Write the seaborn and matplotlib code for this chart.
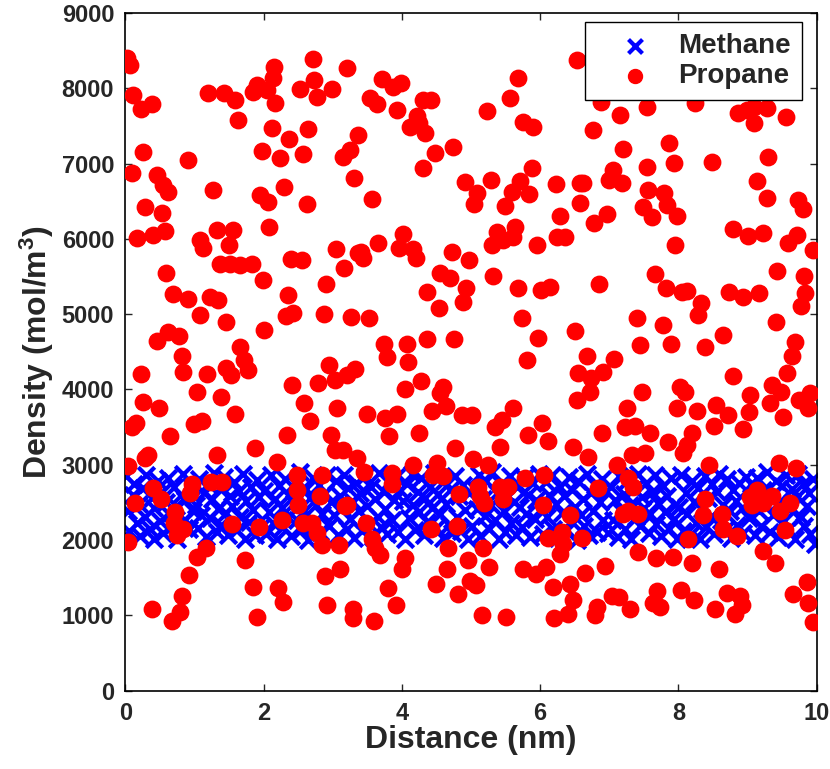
import numpy as np
import pandas as pd
import seaborn as sns
import matplotlib.pyplot as plt

sns.set_style("white")
plt.rcParams['font.family'] = ['Liberation Sans', 'DejaVu Sans']
plt.rcParams['font.weight'] = 'bold'
plt.rcParams['mathtext.fontset'] = 'custom'
plt.rcParams['mathtext.rm'] = 'Liberation Sans:bold'
plt.rcParams['mathtext.bf'] = 'Liberation Sans:bold'
plt.rcParams['mathtext.default'] = 'bf'

# Methane points (dense band ~2000-2900 mol/m^3)
methane_x = [
    0.01, 0.04, 0.06, 0.11, 0.12, 0.17, 0.20, 0.21, 0.26, 0.29, 0.30, 0.35, 0.38, 0.41, 0.42, 0.47, 0.50,
    0.53, 0.54, 0.59, 0.62, 0.63, 0.68, 0.71, 0.74, 0.75, 0.80, 0.83, 0.86, 0.87, 0.92, 0.95, 0.98,
    1.02, 1.05, 1.07, 1.10, 1.14, 1.16, 1.19, 1.23, 1.25, 1.28, 1.32, 1.34, 1.37, 1.39, 1.43, 1.46, 1.48,
    1.52, 1.55, 1.57, 1.61, 1.64, 1.66, 1.70, 1.73, 1.75, 1.79, 1.82, 1.84, 1.88, 1.91, 1.93, 1.97,
    2.01, 2.04, 2.08, 2.10, 2.13, 2.17, 2.19, 2.22, 2.26, 2.28, 2.31, 2.35, 2.37, 2.40, 2.44, 2.46, 2.49,
    2.53, 2.55, 2.58, 2.62, 2.64, 2.67, 2.71, 2.73, 2.76, 2.80, 2.82, 2.85, 2.89, 2.91, 2.94, 2.98,
    3.02, 3.05, 3.07, 3.11, 3.13, 3.16, 3.20, 3.22, 3.25, 3.29, 3.31, 3.34, 3.38, 3.40, 3.43, 3.47, 3.49,
    3.52, 3.56, 3.58, 3.61, 3.65, 3.67, 3.70, 3.74, 3.76, 3.79, 3.83, 3.85, 3.88, 3.92, 3.94, 3.97,
    4.01, 4.04, 4.07, 4.10, 4.14, 4.16, 4.19, 4.23, 4.25, 4.28, 4.32, 4.34, 4.37, 4.41, 4.43, 4.46, 4.50,
    4.52, 4.55, 4.59, 4.61, 4.64, 4.68, 4.70, 4.73, 4.77, 4.79, 4.82, 4.86, 4.88, 4.91, 4.95, 4.97,
    5.02, 5.05, 5.08, 5.11, 5.13, 5.17, 5.20, 5.22, 5.26, 5.29, 5.31, 5.35, 5.38, 5.40, 5.44, 5.47, 5.49,
    5.53, 5.56, 5.58, 5.62, 5.65, 5.67, 5.71, 5.74, 5.76, 5.80, 5.83, 5.85, 5.89, 5.92, 5.94, 5.98,
    6.01, 6.04, 6.08, 6.10, 6.13, 6.17, 6.19, 6.23, 6.26, 6.28, 6.32, 6.35, 6.37, 6.41, 6.44, 6.46, 6.50,
    6.53, 6.55, 6.59, 6.62, 6.64, 6.68, 6.71, 6.73, 6.77, 6.80, 6.82, 6.86, 6.89, 6.91, 6.95, 6.98,
    7.02, 7.05, 7.08, 7.12, 7.14, 7.17, 7.21, 7.23, 7.26, 7.30, 7.32, 7.35, 7.39, 7.41, 7.44, 7.48, 7.50,
    7.53, 7.57, 7.59, 7.62, 7.66, 7.68, 7.71, 7.75, 7.77, 7.80, 7.84, 7.86, 7.89, 7.93, 7.95, 7.98,
    8.01, 8.04, 8.07, 8.11, 8.13, 8.16, 8.20, 8.22, 8.25, 8.29, 8.31, 8.34, 8.38, 8.40, 8.43, 8.47, 8.49,
    8.52, 8.56, 8.58, 8.61, 8.65, 8.67, 8.70, 8.74, 8.76, 8.79, 8.83, 8.85, 8.88, 8.92, 8.94, 8.97,
    9.02, 9.05, 9.08, 9.11, 9.14, 9.17, 9.19, 9.23, 9.26, 9.28, 9.32, 9.35, 9.37, 9.41, 9.44, 9.46, 9.50,
    9.53, 9.55, 9.59, 9.62, 9.64, 9.68, 9.71, 9.73, 9.77, 9.80, 9.82, 9.86, 9.89, 9.91, 9.95, 9.98,
]
methane_y = [
    2850, 2380, 2120, 2600, 2750, 2230, 2480, 2050, 2690, 2310, 2870, 2150, 2560, 2420, 2010, 2780, 2250,
    2640, 2090, 2500, 2830, 2340, 2180, 2710, 2450, 2020, 2600, 2880, 2270, 2530, 2140, 2720, 2390,
    2470, 2160, 2810, 2330, 2620, 2040, 2740, 2290, 2550, 2890, 2110, 2410, 2680, 2200, 2840, 2360, 2070,
    2590, 2450, 2770, 2130, 2650, 2300, 2880, 2020, 2520, 2240, 2700, 2400, 2060, 2800, 2570, 2190,
    2650, 2080, 2370, 2860, 2230, 2540, 2010, 2720, 2430, 2170, 2810, 2310, 2600, 2050, 2490, 2760, 2260,
    2900, 2140, 2380, 2680, 2000, 2560, 2820, 2210, 2460, 2730, 2100, 2350, 2620, 2870, 2190, 2500,
    2330, 2790, 2060, 2580, 2420, 2870, 2150, 2690, 2280, 2510, 2030, 2760, 2390, 2620, 2120, 2850, 2450,
    2210, 2700, 2040, 2550, 2310, 2890, 2170, 2640, 2410, 2080, 2780, 2260, 2530, 2840, 2110, 2670,
    2520, 2010, 2740, 2290, 2880, 2460, 2130, 2640, 2370, 2820, 2070, 2560, 2240, 2710, 2430, 2890, 2160,
    2610, 2340, 2030, 2790, 2480, 2200, 2660, 2090, 2850, 2310, 2580, 2120, 2730, 2400, 2020, 2620,
    2180, 2690, 2410, 2860, 2050, 2550, 2320, 2780, 2140, 2470, 2900, 2260, 2630, 2010, 2740, 2380, 2100,
    2590, 2850, 2230, 2500, 2070, 2710, 2440, 2170, 2820, 2350, 2600, 2040, 2760, 2280, 2530, 2880,
    2410, 2080, 2770, 2300, 2600, 2860, 2150, 2480, 2030, 2700, 2360, 2590, 2120, 2840, 2250, 2660, 2440,
    2000, 2790, 2330, 2540, 2190, 2880, 2060, 2620, 2390, 2730, 2110, 2510, 2810, 2270, 2650, 2090,
    2700, 2260, 2530, 2040, 2850, 2390, 2610, 2140, 2790, 2470, 2020, 2680, 2300, 2880, 2180, 2570, 2420,
    2760, 2090, 2340, 2640, 2860, 2210, 2490, 2050, 2720, 2370, 2590, 2150, 2830, 2280, 2460, 2010,
    2440, 2870, 2120, 2620, 2350, 2060, 2780, 2510, 2230, 2690, 2020, 2410, 2850, 2170, 2560, 2300, 2740,
    2080, 2640, 2880, 2260, 2470, 2130, 2810, 2380, 2030, 2670, 2520, 2200, 2760, 2430, 2090, 2840,
    2290, 2750, 2540, 2070, 2830, 2380, 2180, 2660, 2470, 2900, 2110, 2600, 2330, 2790, 2040, 2500, 2720,
    2250, 2860, 2150, 2410, 2680, 2020, 2570, 2880, 2310, 2740, 2190, 2450, 2630, 2080, 2810, 1950,
]

# Propane points (scattered 900-8400 mol/m^3)
propane_x = [
    0.03, 0.07, 0.11, 0.23, 0.39, 1.20, 1.42, 1.59, 1.63, 1.84,
    1.90, 2.05, 2.14, 2.15, 2.17, 2.72, 2.73, 2.53, 2.77, 2.99,
    3.21, 2.12, 2.37, 2.64, 1.98, 2.24, 2.57, 3.37, 3.25, 3.15,
    3.31, 0.26, 0.91, 0.10, 0.46, 0.55, 0.61, 1.27, 1.95, 2.07,
    2.30, 2.63, 0.29, 0.53, 2.08, 0.17, 0.40, 0.58, 1.08, 1.13,
    1.32, 1.56, 1.50, 1.37, 1.52, 1.66, 1.83, 1.99, 2.40, 2.56,
    3.05, 3.16, 3.37, 0.59, 0.69, 0.90, 1.23, 1.34, 1.08, 1.46,
    2.01, 2.33, 2.43, 2.36, 2.90, 2.88, 3.27, 0.46, 0.62, 0.77,
    1.66, 3.71, 3.87, 3.99, 3.54, 3.64, 3.93, 4.31, 4.42, 4.22,
    4.12, 4.34, 4.25, 4.48, 4.74, 4.31, 3.57, 5.68, 5.56, 5.23,
    5.75, 5.90, 6.53, 4.91, 5.29, 5.09, 5.04, 5.49, 5.59, 5.71,
    5.88, 5.84, 6.23, 6.58, 6.29, 6.58, 6.24, 6.36, 5.95, 5.38,
    5.30, 5.46, 5.64, 5.61, 5.32, 5.68, 6.01, 6.14, 5.74, 5.97,
    6.50, 3.41, 3.44, 3.66, 4.02, 3.96, 4.16, 4.21, 4.73, 4.97,
    4.55, 4.70, 4.36, 4.93, 4.88, 4.54, 3.53, 3.74, 4.08, 4.36,
    4.75, 6.88, 7.15, 7.54, 8.24, 8.86, 8.99, 9.10, 9.28, 9.10,
    9.55, 6.76, 7.20, 7.86, 7.93, 7.54, 8.48, 9.29, 7.05, 6.99,
    7.18, 6.62, 7.56, 7.79, 7.83, 7.49, 7.62, 7.98, 6.97, 6.78,
    9.13, 9.28, 9.73, 9.80, 8.79, 9.00, 9.22, 9.58, 9.71, 9.94,
    7.95, 7.66, 6.85, 7.82, 8.05, 8.12, 8.32, 8.29, 8.73, 8.93,
    9.16, 9.42, 9.81, 9.83, 9.77, 7.40, 7.77, 8.64, 9.41, 7.44,
    7.89, 8.38, 9.68, 0.82, 1.71, 1.78, 0.22, 0.84, 1.18, 1.45,
    1.53, 1.03, 1.39, 0.26, 0.49, 1.59, 0.16, 0.10, 1.00, 1.11,
    0.65, 2.41, 2.79, 2.95, 3.03, 3.21, 3.32, 2.59, 3.06, 2.67,
    2.34, 2.98, 3.03, 3.15, 3.35, 1.88, 1.32, 0.33, 0.29, 2.20,
    0.04, 2.49, 2.85, 2.49, 2.82, 3.21, 2.50, 0.97, 0.94, 1.24,
    1.40, 0.40, 0.51, 0.14, 0.72, 0.70, 0.84, 0.75, 1.55, 1.94,
    2.27, 2.57, 2.70, 2.77, 0.04, 1.16, 1.04, 1.73, 2.85, 3.09,
    0.92, 2.89, 3.11, 0.82, 1.85, 2.21, 2.28, 0.38, 0.79, 0.68,
    1.91, 2.92, 3.29, 3.29, 3.79, 4.09, 5.81, 4.05, 4.28, 4.60,
    4.55, 3.50, 3.76, 3.93, 3.82, 4.25, 4.44, 4.64, 4.87, 5.01,
    5.35, 5.45, 5.61, 5.42, 5.82, 6.03, 6.11, 6.47, 6.53, 6.55,
    4.77, 3.45, 4.16, 4.51, 5.03, 5.25, 3.86, 3.86, 4.45, 4.60,
    5.78, 6.05, 5.10, 5.13, 5.19, 4.83, 5.42, 5.53, 5.46, 3.18,
    6.04, 6.43, 3.48, 4.42, 4.80, 3.57, 3.61, 3.68, 4.67, 5.17,
    6.11, 6.31, 6.33, 6.29, 4.05, 4.00, 4.65, 4.96, 5.26, 5.75,
    5.94, 6.08, 4.49, 4.99, 5.07, 6.18, 6.43, 3.80, 3.92, 4.81,
    6.47, 3.60, 5.16, 5.51, 6.20, 6.40, 6.68, 7.07, 6.73, 6.91,
    6.72, 7.47, 8.02, 8.09, 7.98, 7.25, 8.27, 8.55, 8.71, 8.79,
    9.03, 9.02, 9.35, 9.49, 9.32, 9.57, 9.64, 9.74, 9.87, 9.91,
    9.51, 8.51, 8.93, 6.89, 7.23, 7.37, 7.59, 7.85, 8.19, 8.12,
    8.06, 6.69, 7.11, 7.33, 7.51, 8.44, 9.45, 9.70, 7.27, 7.34,
    6.84, 8.38, 9.13, 9.03, 9.06, 9.22, 9.35, 9.61, 9.47, 7.27,
    7.41, 7.20, 8.35, 8.63, 8.64, 8.84, 9.54, 6.60, 8.14, 9.22,
    9.39, 7.41, 7.67, 7.92, 8.19, 8.58, 6.94, 6.65, 9.86, 9.65,
    9.88, 9.94, 7.04, 7.14, 7.30, 6.82, 6.79, 7.69, 7.63, 7.73,
    8.03, 8.22, 8.53, 8.70, 8.89, 8.92, 8.82,
]
propane_y = [
    8400, 8310, 7910, 7730, 7790, 7940, 7940, 7850, 7580, 7950,
    8050, 7980, 8140, 8280, 7800, 8390, 8110, 7990, 7890, 7990,
    8270, 7470, 7330, 7460, 7170, 7070, 7130, 7380, 7180, 7090,
    6810, 7150, 7050, 6880, 6850, 6720, 6620, 6650, 6580, 6490,
    6690, 6460, 6420, 6340, 6160, 6010, 6050, 6100, 5980, 5880,
    6120, 6120, 5920, 5660, 5660, 5650, 5660, 5450, 5730, 5720,
    5860, 5620, 5810, 5550, 5270, 5200, 5230, 5190, 4990, 4890,
    4790, 4970, 5010, 5250, 5400, 5000, 4960, 4640, 4760, 4710,
    4560, 8120, 8020, 8070, 7870, 7790, 7710, 7850, 7850, 7630,
    7490, 7410, 7540, 7140, 7220, 6940, 6530, 8140, 7870, 7700,
    7550, 7490, 8380, 6760, 6780, 6610, 6460, 6440, 6620, 6770,
    6940, 6600, 6730, 6740, 6300, 6480, 6020, 6020, 5920, 6090,
    5920, 5980, 6160, 6020, 5510, 5350, 5320, 5360, 4950, 4680,
    4770, 5820, 5740, 5940, 6060, 5880, 5860, 5740, 5820, 5720,
    5550, 5480, 5290, 5350, 5160, 5080, 4950, 4610, 4610, 4670,
    4670, 7820, 7650, 7750, 7800, 7670, 7710, 7750, 7740, 7540,
    7620, 7450, 7190, 7270, 7010, 6950, 7020, 7090, 6910, 6780,
    6740, 6740, 6650, 6610, 6450, 6420, 6290, 6300, 6330, 6210,
    6770, 6540, 6520, 6400, 6130, 6040, 6080, 5940, 6050, 5850,
    5920, 5530, 5400, 5350, 5290, 5310, 5150, 4990, 5290, 5230,
    5280, 5570, 5510, 5280, 5110, 4950, 4850, 4720, 4890, 4590,
    4610, 4560, 4630, 4450, 4390, 4260, 4200, 4230, 4200, 4280,
    4190, 3960, 3900, 3840, 3760, 3680, 3560, 3500, 3540, 3580,
    3380, 4060, 4080, 4320, 4120, 4190, 4270, 3820, 3760, 3580,
    3390, 3400, 3190, 3190, 3090, 3220, 3130, 3130, 3090, 3030,
    2980, 2860, 2860, 2670, 2590, 2460, 2460, 2750, 2630, 2770,
    2770, 2690, 2550, 2490, 2370, 2230, 2150, 2060, 2210, 2170,
    2260, 2230, 2230, 2090, 1970, 1900, 1770, 1730, 1930, 1930,
    1540, 1520, 1620, 1250, 1370, 1360, 1170, 1090, 1040, 930,
    980, 1130, 1090, 960, 4430, 4360, 4390, 4000, 4110, 4030,
    3950, 3680, 3620, 3670, 3380, 3420, 3710, 3780, 3660, 3660,
    3500, 3590, 3750, 3230, 3390, 3550, 3310, 3230, 3860, 4220,
    3220, 2900, 2990, 3020, 3070, 2990, 2890, 2750, 2860, 2850,
    2830, 2870, 2700, 2590, 2490, 2610, 2700, 2700, 2550, 2450,
    2460, 2330, 2220, 2150, 2180, 2020, 1900, 1800, 1900, 1900,
    2030, 2100, 1950, 1820, 1760, 1610, 1620, 1740, 1640, 1610,
    1550, 1640, 1420, 1450, 1400, 1370, 1420, 1360, 1140, 1280,
    1200, 930, 1000, 980, 970, 1020, 4440, 4410, 4150, 4230,
    3960, 3960, 4030, 3960, 3760, 3750, 3710, 3790, 3660, 4180,
    3920, 3700, 4060, 3960, 3820, 4220, 4440, 3860, 3750, 3950,
    3630, 3520, 3470, 3420, 3500, 3510, 3420, 3300, 3420, 3260,
    3150, 3100, 2990, 3130, 3150, 2990, 3020, 2950, 2830, 2700,
    2690, 2550, 2660, 2570, 2460, 2490, 2590, 2490, 2390, 2390,
    2350, 2340, 2330, 2340, 2140, 2050, 2130, 2030, 2020, 1860,
    1700, 1840, 1760, 1770, 1700, 1610, 1650, 1560, 1440, 1280,
    1160, 910, 1260, 1240, 1080, 1110, 1000, 1320, 1160, 1110,
    1330, 1200, 1080, 1290, 1250, 1130, 1020,
]

x_ticks = [0, 2, 4, 6, 8, 10]
y_ticks = [0, 1000, 2000, 3000, 4000, 5000, 6000, 7000, 8000, 9000]

methane = pd.DataFrame({"Distance": methane_x, "Density": methane_y})
propane = pd.DataFrame({"Distance": propane_x, "Density": propane_y})

fig, ax = plt.subplots(figsize=(8.3, 7.69), dpi=100)
fig.subplots_adjust(left=0.151, right=0.984, bottom=0.102, top=0.983)

sns.scatterplot(data=methane, x="Distance", y="Density", marker="x", color="#0000ff",
                s=140, linewidth=3.0, ax=ax, label="Methane", zorder=2)
sns.scatterplot(data=propane, x="Distance", y="Density", marker="o", color="#ff0000",
                edgecolor="#ff0000", s=140, linewidth=1.0, ax=ax, label="Propane", zorder=3)

ax.set_xlim(0, 10)
ax.set_ylim(0, 9000)
ax.set_xticks(x_ticks)
ax.set_yticks(y_ticks)
ax.tick_params(direction="in", length=5, width=1, labelsize=17, top=True, right=True,
               bottom=True, left=True, pad=8)
for lab in ax.get_xticklabels() + ax.get_yticklabels():
    lab.set_fontweight("bold")
for sp in ax.spines.values():
    sp.set_visible(True)
    sp.set_color("black")
    sp.set_linewidth(1.2)

ax.set_xlabel("Distance (nm)", fontsize=23, fontweight="bold", labelpad=0)
ax.set_ylabel(r"Density (mol/m$^3$)", fontsize=23, fontweight="bold", labelpad=4)

leg = ax.legend(loc="upper right", bbox_to_anchor=(0.978, 0.987), borderaxespad=0,
                fontsize=20, frameon=True, fancybox=False, edgecolor="black", framealpha=1,
                handlelength=2.8, handletextpad=0.15, borderpad=0.4, labelspacing=0.15,
                markerscale=0.85)
leg.get_frame().set_linewidth(1.0)

fig.savefig("out.png", dpi=100)
